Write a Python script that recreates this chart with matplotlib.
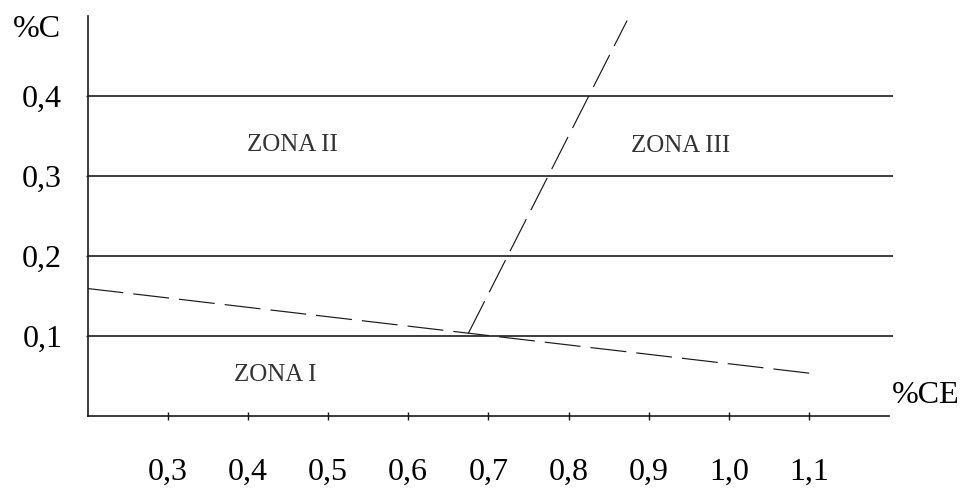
import matplotlib
matplotlib.use("Agg")
import matplotlib.pyplot as plt

# ---- data ----
x_ticks = [0.3, 0.4, 0.5, 0.6, 0.7, 0.8, 0.9, 1.0, 1.1]
x_tick_labels = ["0,3", "0,4", "0,5", "0,6", "0,7", "0,8", "0,9", "1,0", "1,1"]
y_ticks = [0.1, 0.2, 0.3, 0.4]
y_tick_labels = ["0,1", "0,2", "0,3", "0,4"]
zone_lines_y = [0.1, 0.2, 0.3, 0.4]

boundary1_x = [0.2, 1.11]
boundary1_y = [0.159, 0.052]
boundary2_x = [0.675, 0.873]
boundary2_y = [0.103, 0.494]

zone_names = ["ZONA I", "ZONA II", "ZONA III"]
zone_x = [0.434, 0.455, 0.94]
zone_y = [0.051, 0.338, 0.337]

x_label = "%CE"
y_label = "%C"

plt.rcParams['font.family'] = ['Liberation Serif', 'DejaVu Serif']

fig = plt.figure(figsize=(9.62, 4.88), dpi=100)
ax = fig.add_axes([87.5 / 962, 1 - 415.7 / 488, (889.3 - 87.5) / 962, (415.7 - 15.7) / 488])
ax.set_xlim(0.2, 1.2)
ax.set_ylim(0, 0.5)

for s in ['top', 'right']:
    ax.spines[s].set_visible(False)
for s in ['left', 'bottom']:
    ax.spines[s].set_linewidth(1.2)
    ax.spines[s].set_color('#1a1a1a')

grid_color = '#2e2e2e'
ax.hlines(zone_lines_y, 0.2, 1.205, colors=grid_color, linewidth=1.3, clip_on=False, zorder=2)

dash_kw = dict(color='#1a1a1a', linewidth=0.85, dashes=(30.5, 8.5), zorder=3)
ax.plot(boundary1_x, boundary1_y, **dash_kw)
ax.plot(boundary2_x, boundary2_y, **dash_kw)

for name, zx, zy in zip(zone_names, zone_x, zone_y):
    ax.text(zx, zy, name, ha='center', va='center', fontsize=18, color='#333333')

ax.set_xticks(x_ticks)
ax.set_xticklabels(x_tick_labels, fontsize=23)
ax.set_yticks(y_ticks)
ax.set_yticklabels(y_tick_labels, fontsize=23)
ax.tick_params(axis='x', direction='inout', length=6, width=1.0, color='#1a1a1a', pad=27)
ax.tick_params(axis='y', direction='out', length=1.2, width=1.0, color=grid_color, pad=17)

fig.text(13 / 962, 1 - 36.7 / 488, y_label, ha='left', va='baseline', fontsize=23)
fig.text(892 / 962, 1 - 403 / 488, x_label, ha='left', va='baseline', fontsize=23)

fig.savefig("out.png", dpi=100)
